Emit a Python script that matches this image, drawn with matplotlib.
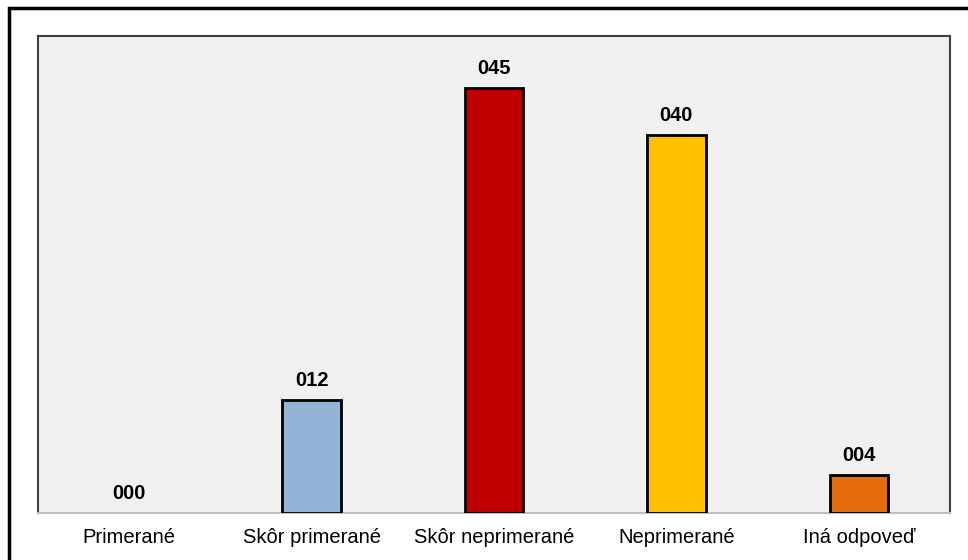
import matplotlib.pyplot as plt
import matplotlib.patches as mpatches
import numpy as np

plt.rcParams['font.family'] = ['Liberation Sans', 'DejaVu Sans']

# answers and counts
categories = ['Primerané', 'Skôr primerané', 'Skôr neprimerané', 'Neprimerané', 'Iná odpoveď']
counts = [0, 12, 45, 40, 4]
colors = ['#95B3D7', '#95B3D7', '#C00000', '#FFC000', '#E46C0A']

fig = plt.figure(figsize=(9.68, 5.6), dpi=100)
ax = fig.add_axes([38 / 968, 47 / 560, 912 / 968, 477 / 560])
ax.set_facecolor('#F0F0F0')

x = np.arange(len(categories))
bars = ax.bar(x, counts, width=0.32, color=colors, edgecolor='black', linewidth=2, zorder=3)
for i, b in enumerate(bars):
    if counts[i] == 0:
        b.set_visible(False)
    ax.annotate('%03d' % counts[i], (b.get_x() + b.get_width() / 2, counts[i]),
                xytext=(0, 7), textcoords='offset points', ha='center', va='bottom',
                fontsize=14.5, fontweight='bold')

ax.set_xlim(-0.5, len(categories) - 0.5)
ax.set_ylim(0, 50.5)
ax.set_yticks([])
ax.set_xticks(x)
ax.set_xticklabels(categories, fontsize=14.5)
ax.tick_params(axis='x', length=0, pad=11)

for side in ['left', 'top', 'right']:
    ax.spines[side].set_color('#404040')
    ax.spines[side].set_linewidth(1.5)
ax.spines['bottom'].set_color('#BFBFBF')
ax.spines['bottom'].set_linewidth(1.5)

# outer frame of the chart
frame = mpatches.Rectangle((9 / 968, -0.1), 1.2, 1.1 - 8 / 560,
                           transform=fig.transFigure, fill=False, edgecolor='black',
                           linewidth=2.5, clip_on=False)
fig.patches.append(frame)

fig.savefig('out.png', dpi=100)
